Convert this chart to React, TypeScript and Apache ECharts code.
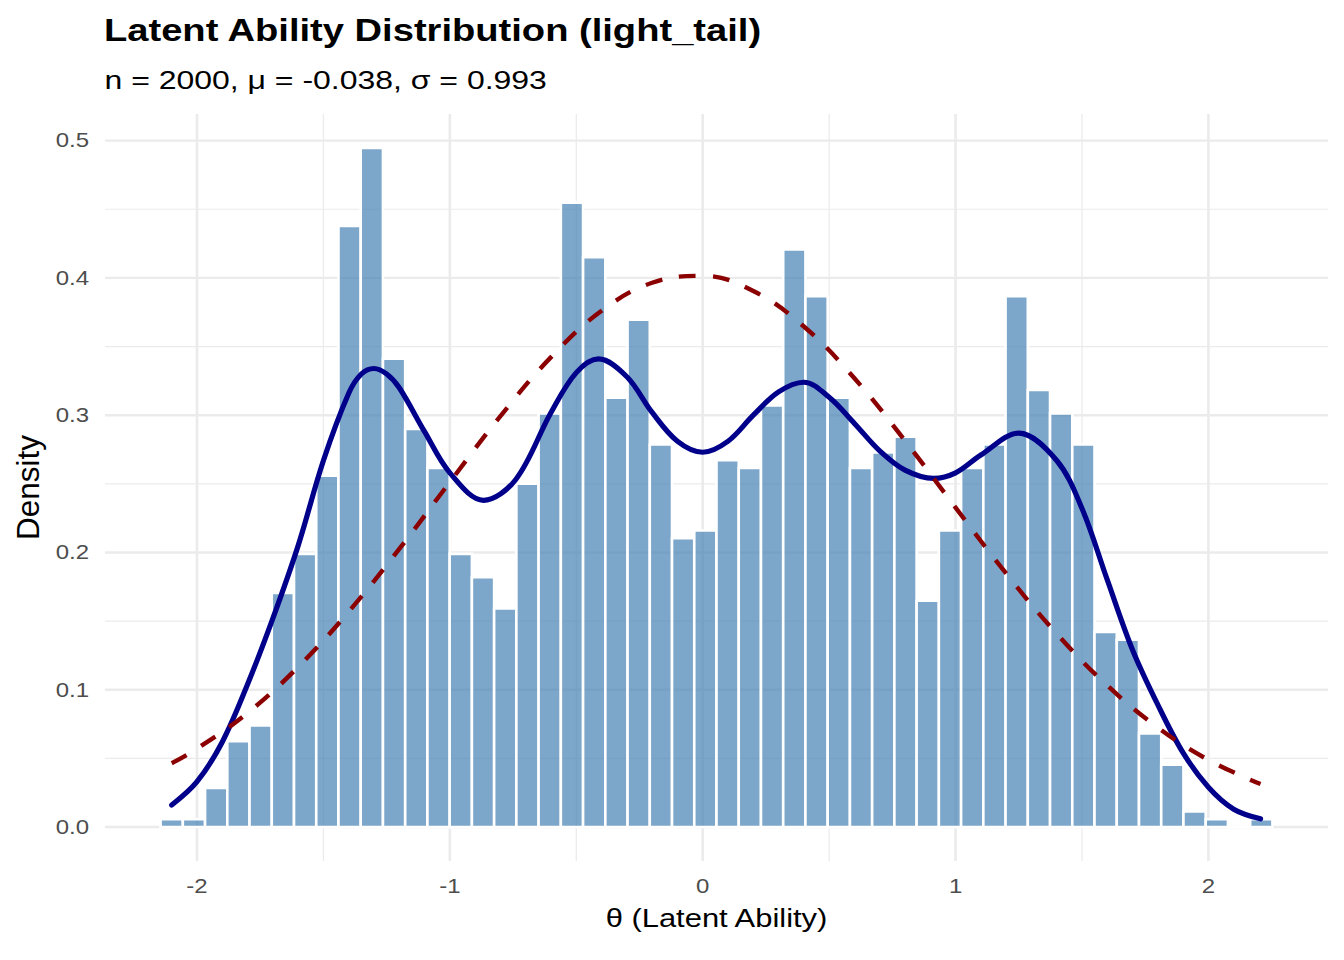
import React, { useEffect, useRef } from "react";
import * as echarts from "echarts";

const TITLE = "Latent Ability Distribution (light_tail)";
const SUBTITLE = "n = 2000, μ = -0.038, σ = 0.993";
const X_TITLE = "θ (Latent Ability)";
const Y_TITLE = "Density";

const N_OBS = 2000;
const BIN_START = -2.144;
const BIN_WIDTH = 0.08794;
const BIN_COUNTS = [
  1, 1, 5, 11, 13, 30, 35, 45, 77, 87,
  60, 51, 46, 35, 32, 28, 44, 53, 80, 73,
  55, 65, 49, 37, 38, 47, 46, 54, 74, 68,
  55, 46, 48, 50, 29, 38, 46, 49, 68, 56,
  53, 49, 25, 24, 12, 8, 2, 1, 0, 1,
];

const KDE_X = [
  -2.1, -2.0, -1.9, -1.8, -1.7, -1.6, -1.5, -1.4, -1.35, -1.3,
  -1.25, -1.2, -1.1, -1.0, -0.867, -0.74, -0.6, -0.5, -0.412,
  -0.3, -0.2, -0.1, 0.0, 0.1, 0.2, 0.3, 0.4, 0.5, 0.6,
  0.7, 0.8, 0.913, 1.0, 1.1, 1.25, 1.4, 1.5, 1.6,
  1.7, 1.8, 1.9, 2.0, 2.1, 2.206,
];
const KDE_Y = [
  0.016, 0.033, 0.062, 0.104, 0.152, 0.205, 0.267, 0.316, 0.33, 0.334,
  0.33, 0.32, 0.288, 0.258, 0.238, 0.253, 0.302, 0.331, 0.341,
  0.328, 0.302, 0.281, 0.273, 0.281, 0.3, 0.317, 0.324, 0.313, 0.294,
  0.274, 0.26, 0.254, 0.258, 0.271, 0.287, 0.267, 0.232, 0.18,
  0.129, 0.089, 0.054, 0.029, 0.013, 0.006,
];

const NORM_X = [
  -2.1, -2.0, -1.8, -1.6, -1.4, -1.2, -1.0, -0.8, -0.6, -0.4, -0.2, 0.0,
  0.2, 0.4, 0.6, 0.8, 1.0, 1.2, 1.4, 1.6, 1.8, 2.0, 2.206,
];
const NORM_Y = [
  0.0465, 0.0571, 0.0831, 0.1166, 0.1569, 0.2026, 0.2513, 0.2993, 0.3423, 0.376, 0.3965, 0.4015,
  0.3904, 0.3646, 0.3269, 0.2814, 0.2327, 0.1847, 0.1408, 0.1031, 0.0725, 0.0489, 0.0313,
];

const X_TICKS = [-2, -1, 0, 1, 2];
const X_MINOR = [-1.5, -0.5, 0.5, 1.5];
const Y_TICKS = [0, 0.1, 0.2, 0.3, 0.4, 0.5];
const Y_MINOR = [0.05, 0.15, 0.25, 0.35, 0.45];

const FONT = "'Liberation Sans', Arial, Helvetica, sans-serif";
const GRID_COLOR = "#EBEBEB";

export default function App() {
  const ref = useRef<HTMLDivElement>(null);

  useEffect(() => {
    if (!ref.current) return;
    const chart = echarts.init(ref.current, null, { renderer: "svg" });

    const densities = BIN_COUNTS.map((c) => c / (N_OBS * BIN_WIDTH));
    const bars = BIN_COUNTS.map((_, i) => [
      BIN_START + i * BIN_WIDTH,
      BIN_START + (i + 1) * BIN_WIDTH,
      densities[i],
    ]);
    const xLo = BIN_START;
    const xHi = BIN_START + BIN_COUNTS.length * BIN_WIDTH;
    const xPad = 0.05 * (xHi - xLo);
    const X_MIN = xLo - xPad;
    const X_MAX = xHi + xPad;
    const yTop = Math.max(...densities);
    const Y_MIN = -0.05 * yTop;
    const Y_MAX = yTop * 1.05;

    const vLines = [
      ...X_TICKS.map((v) => [v, 1]),
      ...X_MINOR.map((v) => [v, 0]),
    ];
    const hLines = [
      ...Y_TICKS.map((v) => [0, v, 1]),
      ...Y_MINOR.map((v) => [0, v, 0]),
    ];

    const option: any = {
      animation: false,
      grid: { left: 105, right: 16, top: 114, bottom: 99, containLabel: false },
      xAxis: {
        type: "value",
        min: X_MIN,
        max: X_MAX,
        show: false,
        splitLine: { show: false },
      },
      yAxis: {
        type: "value",
        min: Y_MIN,
        max: Y_MAX,
        show: false,
        splitLine: { show: false },
      },
      graphic: [
        {
          type: "text",
          x: 104,
          y: 30,
          scaleX: 1.23,
          style: {
            text: TITLE,
            fontSize: 31,
            fontWeight: "bold",
            fontFamily: FONT,
            fill: "#000000",
            align: "left",
            verticalAlign: "middle",
          },
        },
        {
          type: "text",
          x: 104.5,
          y: 80,
          scaleX: 1.23,
          style: {
            text: SUBTITLE,
            fontSize: 26,
            fontFamily: FONT,
            fill: "#000000",
            align: "left",
            verticalAlign: "middle",
          },
        },
        {
          type: "text",
          x: 716.5,
          y: 918,
          scaleX: 1.19,
          style: {
            text: X_TITLE,
            fontSize: 26,
            fontFamily: FONT,
            fill: "#000000",
            align: "center",
            verticalAlign: "middle",
          },
        },
        {
          type: "text",
          x: 28,
          y: 487.5,
          rotation: Math.PI / 2,
          style: {
            text: Y_TITLE,
            fontSize: 31.5,
            fontFamily: FONT,
            fill: "#000000",
            align: "center",
            verticalAlign: "middle",
          },
        },
      ],
      series: [
        {
          type: "custom",
          name: "vgrid",
          z: 1,
          silent: true,
          data: vLines,
          renderItem: (_p: any, api: any) => {
            const v = api.value(0);
            const major = api.value(1) === 1;
            const a = api.coord([v, Y_MIN]);
            const b = api.coord([v, Y_MAX]);
            return {
              type: "line",
              shape: { x1: a[0], y1: a[1], x2: b[0], y2: b[1] },
              style: { stroke: GRID_COLOR, lineWidth: major ? 2.6 : 1.3 },
            };
          },
        },
        {
          type: "custom",
          name: "hgrid",
          z: 1,
          silent: true,
          data: hLines,
          renderItem: (_p: any, api: any) => {
            const v = api.value(1);
            const major = api.value(2) === 1;
            const a = api.coord([X_MIN, v]);
            const b = api.coord([X_MAX, v]);
            return {
              type: "line",
              shape: { x1: a[0], y1: a[1], x2: b[0], y2: b[1] },
              style: { stroke: GRID_COLOR, lineWidth: major ? 2.4 : 1.2 },
            };
          },
        },
        {
          type: "custom",
          name: "histogram",
          z: 2,
          data: bars,
          encode: { x: [0, 1], y: 2 },
          renderItem: (_p: any, api: any) => {
            const p0 = api.coord([api.value(0), api.value(2)]);
            const p1 = api.coord([api.value(1), 0]);
            return {
              type: "rect",
              shape: { x: p0[0], y: p0[1], width: p1[0] - p0[0], height: p1[1] - p0[1] },
              style: { fill: "rgba(70,130,180,0.7)", stroke: "#FFFFFF", lineWidth: 2.6 },
            };
          },
        },
        {
          type: "line",
          name: "kde",
          z: 3,
          data: KDE_X.map((x, i) => [x, KDE_Y[i]]),
          smooth: 0.35,
          showSymbol: false,
          symbol: "none",
          lineStyle: { color: "#00008B", width: 5.2, cap: "round", join: "round" },
        },
        {
          type: "line",
          name: "normal",
          z: 4,
          data: NORM_X.map((x, i) => [x, NORM_Y[i]]),
          smooth: 0.4,
          showSymbol: false,
          symbol: "none",
          lineStyle: { color: "#8B0000", width: 4.4, type: [17, 17], cap: "butt" },
        },
        {
          type: "custom",
          name: "xTickLabels",
          z: 5,
          silent: true,
          clip: false,
          data: X_TICKS.map((v) => [v, 0]),
          renderItem: (_p: any, api: any) => {
            const v = api.value(0);
            const p = api.coord([v, Y_MIN]);
            return {
              type: "text",
              x: p[0],
              y: p[1] + 25,
              scaleX: 1.2,
              style: {
                text: String(v),
                fontSize: 20,
                fontFamily: FONT,
                fill: "#4D4D4D",
                align: "center",
                verticalAlign: "middle",
              },
            };
          },
        },
        {
          type: "custom",
          name: "yTickLabels",
          z: 5,
          silent: true,
          clip: false,
          data: Y_TICKS.map((v) => [0, v]),
          renderItem: (_p: any, api: any) => {
            const v = api.value(1);
            const p = api.coord([X_MIN, v]);
            return {
              type: "text",
              x: p[0] - 16,
              y: p[1],
              scaleX: 1.2,
              style: {
                text: v.toFixed(1),
                fontSize: 20,
                fontFamily: FONT,
                fill: "#4D4D4D",
                align: "right",
                verticalAlign: "middle",
              },
            };
          },
        },
      ],
    };

    chart.setOption(option);
    return () => chart.dispose();
  }, []);

  return (
    <div
      ref={ref}
      style={{ position: "fixed", left: 0, top: 0, width: 1344, height: 960, background: "#FFFFFF" }}
    />
  );
}
